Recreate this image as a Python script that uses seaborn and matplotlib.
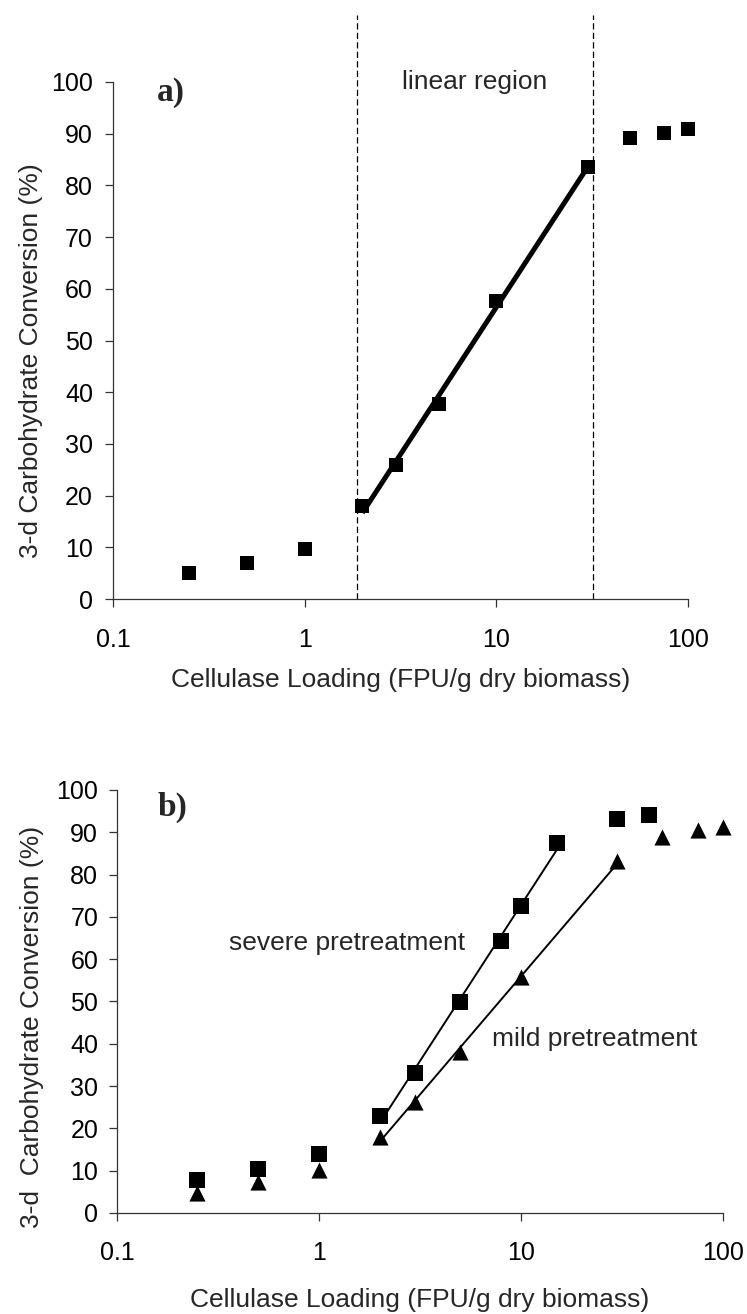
import numpy as np
import pandas as pd
import matplotlib
matplotlib.use("Agg")
import matplotlib.pyplot as plt
from matplotlib.ticker import FixedLocator, FixedFormatter, NullLocator
import seaborn as sns

# ---- panel a: single pretreatment ----
loading_a = [0.25, 0.5, 1, 2, 3, 5, 10, 30, 50, 75, 100]
conversion_a = [5.1, 7.0, 9.7, 17.9, 25.9, 37.7, 57.7, 83.5, 89.1, 90.2, 91.0]
fit_range_a = [2, 30]
linear_bounds = [1.87, 32]

# ---- panel b: severe vs mild pretreatment ----
loading_severe = [0.25, 0.5, 1, 2, 3, 5, 8, 10, 15, 30, 43]
conversion_severe = [7.7, 10.3, 13.9, 23.0, 33.1, 49.9, 64.2, 72.6, 87.4, 93.1, 94.1]
fit_range_severe = [2, 15]

loading_mild = [0.25, 0.5, 1, 2, 3, 5, 10, 30, 50, 75, 100]
conversion_mild = [4.8, 7.2, 10.2, 18.0, 26.2, 38.1, 55.8, 83.1, 88.9, 90.6, 91.3]
fit_range_mild = [2, 30]

x_ticks = [0.1, 1, 10, 100]
x_tick_labels = ["0.1", "1", "10", "100"]
y_ticks = [0, 10, 20, 30, 40, 50, 60, 70, 80, 90, 100]
y_tick_labels = [str(v) for v in y_ticks]

x_label = "Cellulase Loading (FPU/g dry biomass)"
y_label_a = "3-d Carbohydrate Conversion (%)"
y_label_b = "3-d  Carbohydrate Conversion (%)"

sns.set_theme(style="ticks")
plt.rcParams["font.family"] = ["Liberation Sans", "DejaVu Sans"]
SERIF = ["Liberation Serif", "DejaVu Serif"]
AXIS_GRAY = "#333333"

fig = plt.figure(figsize=(7.47, 13.14), dpi=100)
ax_a = fig.add_axes([0.1513, 0.5441, 0.7697, 0.3935])
ax_b = fig.add_axes([0.1566, 0.0769, 0.8112, 0.3219])


def frame(df, lo, hi):
    return df[(df["loading"] >= lo) & (df["loading"] <= hi)]


def style_axes(ax, xpad, ypad):
    ax.set_xscale("log")
    ax.set_xlim(0.1, 100)
    ax.set_ylim(0, 100)
    ax.xaxis.set_major_locator(FixedLocator(x_ticks))
    ax.xaxis.set_major_formatter(FixedFormatter(x_tick_labels))
    ax.xaxis.set_minor_locator(NullLocator())
    ax.yaxis.set_major_locator(FixedLocator(y_ticks))
    ax.yaxis.set_major_formatter(FixedFormatter(y_tick_labels))
    sns.despine(ax=ax)
    for side in ("left", "bottom"):
        ax.spines[side].set_linewidth(0.9)
        ax.spines[side].set_color(AXIS_GRAY)
    ax.tick_params(axis="both", direction="out", length=5.5, width=0.9,
                   color=AXIS_GRAY, labelcolor="black", labelsize=18)
    ax.tick_params(axis="x", pad=xpad)
    ax.tick_params(axis="y", pad=ypad)
    ax.grid(False)


# ---------------- panel a ----------------
df_a = pd.DataFrame({"loading": loading_a, "conversion": conversion_a})
sns.regplot(data=frame(df_a, *fit_range_a), x="loading", y="conversion",
            logx=True, ci=None, scatter=False, ax=ax_a,
            line_kws=dict(color="black", lw=3.6, solid_capstyle="butt"))
sns.scatterplot(data=df_a, x="loading", y="conversion", marker="s", s=108,
                color="black", linewidth=0, ax=ax_a, clip_on=False, zorder=4)
for xb in linear_bounds:
    ax_a.plot([xb, xb], [0, 113], color="black", lw=0.9,
              dashes=(5, 2.6), clip_on=False)
style_axes(ax_a, xpad=15, ypad=9)
ax_a.text(7.7, 100, "linear region", ha="center", va="center", fontsize=19)
ax_a.text(0.17, 98, "a)", ha="left", va="center", fontsize=24,
          fontweight="bold", family=SERIF)
ax_a.set_xlabel(x_label, fontsize=19)
ax_a.set_ylabel(y_label_a, fontsize=19)
ax_a.xaxis.set_label_coords(0.5, -0.133)
ax_a.yaxis.set_label_coords(-0.122, 0.462)

# ---------------- panel b ----------------
df_s = pd.DataFrame({"loading": loading_severe, "conversion": conversion_severe})
df_m = pd.DataFrame({"loading": loading_mild, "conversion": conversion_mild})
sns.regplot(data=frame(df_s, *fit_range_severe), x="loading", y="conversion",
            logx=True, ci=None, scatter=False, ax=ax_b,
            line_kws=dict(color="black", lw=1.4))
sns.regplot(data=frame(df_m, *fit_range_mild), x="loading", y="conversion",
            logx=True, ci=None, scatter=False, ax=ax_b,
            line_kws=dict(color="black", lw=1.4))
sns.scatterplot(data=df_s, x="loading", y="conversion", marker="s", s=120,
                color="black", linewidth=0, ax=ax_b, clip_on=False, zorder=4)
sns.scatterplot(data=df_m, x="loading", y="conversion", marker="^", s=135,
                color="black", linewidth=0, ax=ax_b, clip_on=False, zorder=4)
style_axes(ax_b, xpad=15, ypad=8)
ax_b.text(0.358, 63.9, "severe pretreatment", ha="left", va="center", fontsize=19)
ax_b.text(7.2, 41.2, "mild pretreatment", ha="left", va="center", fontsize=19)
ax_b.text(0.159, 95.8, "b)", ha="left", va="center", fontsize=24,
          fontweight="bold", family=SERIF)
ax_b.set_xlabel(x_label, fontsize=19)
ax_b.set_ylabel(y_label_b, fontsize=19)
ax_b.xaxis.set_label_coords(0.5, -0.177)
ax_b.yaxis.set_label_coords(-0.12, 0.44)

fig.savefig("out.png", dpi=100, facecolor="white")
